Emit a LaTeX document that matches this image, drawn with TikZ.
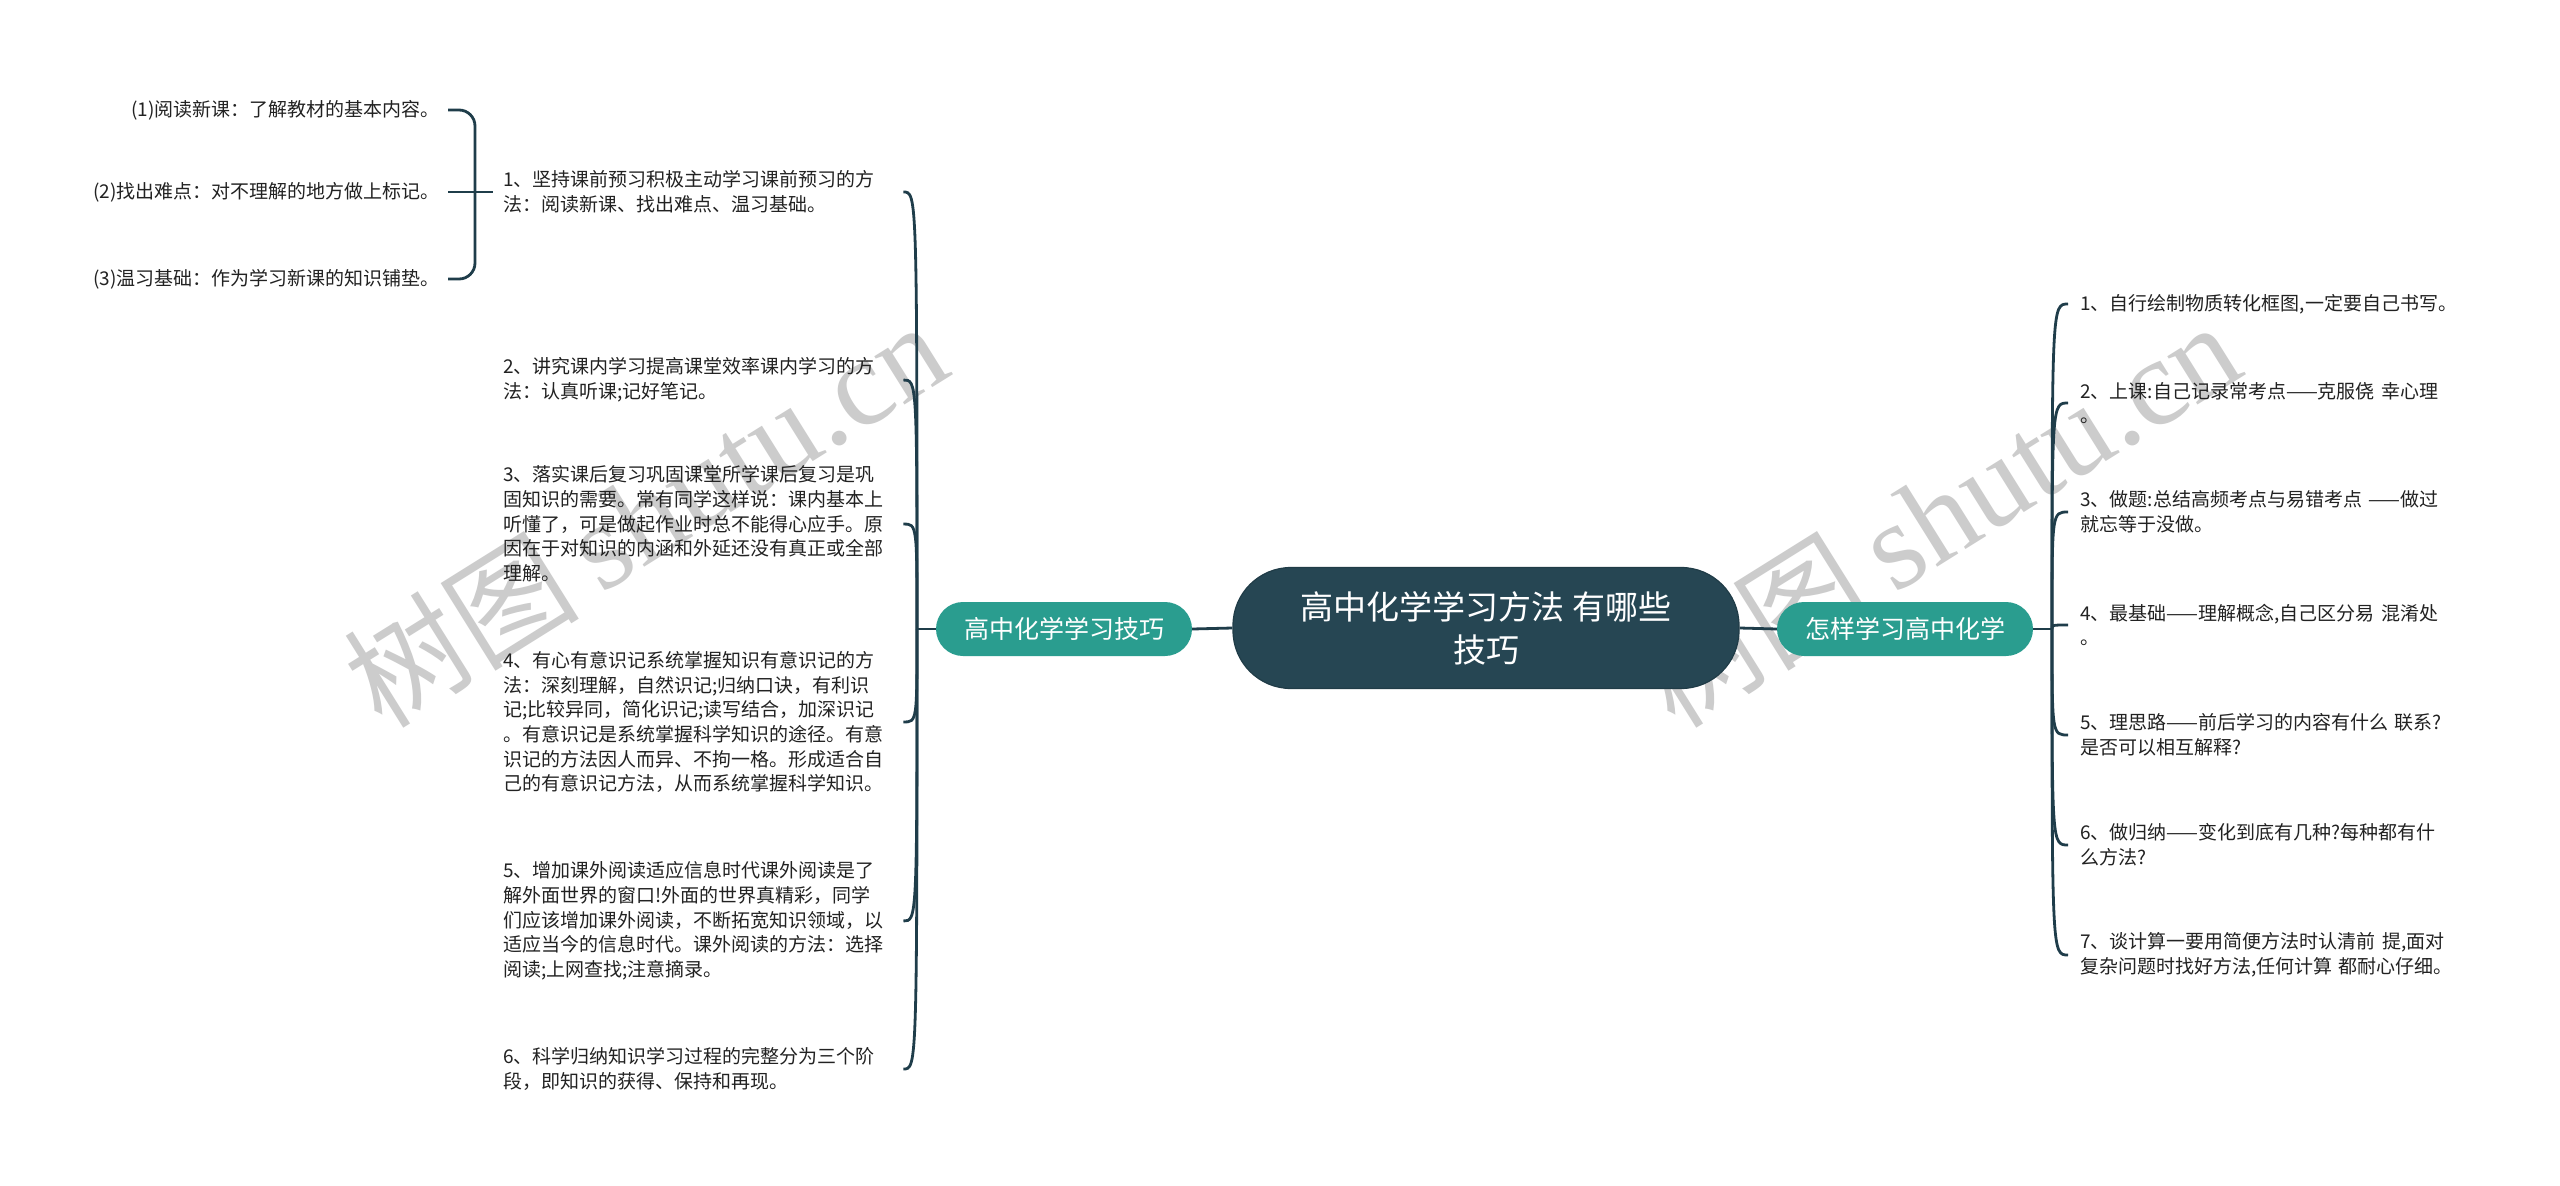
\documentclass[tikz,border=0pt]{standalone}
\usepackage{fontspec}
\setmainfont{Noto Sans CJK SC}
\newfontfamily\wmserif{Liberation Serif}
\definecolor{cdark}{HTML}{264653}
\definecolor{cteal}{HTML}{2A9D8F}
\definecolor{cline}{HTML}{1F3D4A}
\definecolor{ctext}{HTML}{222222}
\begin{document}
\begin{tikzpicture}[x=1pt,y=-1pt,
  conn/.style={draw=cline, line width=2.8pt},
  leftitem/.style={anchor=west, align=left, text width=390pt, inner xsep=10pt, inner ysep=0pt, text=ctext, font=\fontsize{19}{24.7}\selectfont},
  rightitem/.style={anchor=west, align=left, text width=420pt, inner xsep=12pt, inner ysep=0pt, text=ctext, font=\fontsize{19}{24.7}\selectfont},
  subitem/.style={anchor=east, align=right, inner xsep=8pt, inner ysep=0pt, text=ctext, font=\fontsize{19}{24.7}\selectfont},
  mainnode/.style={fill=cteal, text=white, rounded corners=27pt, minimum width=256pt, minimum height=54pt, inner sep=0pt, font=\fontsize{25}{30}\selectfont},
  centernode/.style={fill=cdark, draw=cdark!85!black, line width=1.2pt, text=white, rounded corners=58pt, minimum width=506pt, minimum height=121pt, align=center, inner sep=0pt, font=\fontsize{33}{43}\selectfont},
  wmark/.style={rotate=32, text=black!20, inner sep=0pt}
]
\useasboundingbox (0,0) rectangle (2560,1186);
\fill[white] (0,0) rectangle (2560,1186);

% watermarks
\node[wmark] (w1) at (645,514) {{\fontsize{118}{118}\selectfont 树图}\hspace{22pt}{\wmserif\fontsize{124}{124}\selectfont shutu.cn}};
\node[wmark] (w2) at (1938,514) {{\fontsize{118}{118}\selectfont 树图}\hspace{22pt}{\wmserif\fontsize{124}{124}\selectfont shutu.cn}};

% central and main nodes
\node[centernode] (c) at (1486,628) {高中化学学习方法 有哪些\\技巧};
\node[mainnode] (lm) at (1064,629) {高中化学学习技巧};
\node[mainnode] (rm) at (1905,629) {怎样学习高中化学};

% left items
\node[leftitem] (l1) at (493,192) {1、坚持课前预习积极主动学习课前预习的方\\法：阅读新课、找出难点、温习基础。};
\node[leftitem] (l2) at (493,380) {2、讲究课内学习提高课堂效率课内学习的方\\法：认真听课;记好笔记。};
\node[leftitem] (l3) at (493,524) {3、落实课后复习巩固课堂所学课后复习是巩\\固知识的需要。常有同学这样说：课内基本上\\听懂了，可是做起作业时总不能得心应手。原\\因在于对知识的内涵和外延还没有真正或全部\\理解。};
\node[leftitem] (l4) at (493,722) {4、有心有意识记系统掌握知识有意识记的方\\法：深刻理解，自然识记;归纳口诀，有利识\\记;比较异同，简化识记;读写结合，加深识记\\。有意识记是系统掌握科学知识的途径。有意\\识记的方法因人而异、不拘一格。形成适合自\\己的有意识记方法，从而系统掌握科学知识。};
\node[leftitem] (l5) at (493,921) {5、增加课外阅读适应信息时代课外阅读是了\\解外面世界的窗口!外面的世界真精彩，同学\\们应该增加课外阅读，不断拓宽知识领域，以\\适应当今的信息时代。课外阅读的方法：选择\\阅读;上网查找;注意摘录。};
\node[leftitem] (l6) at (493,1069) {6、科学归纳知识学习过程的完整分为三个阶\\段，即知识的获得、保持和再现。};

% sub items of item 1
\node[subitem] (s1) at (448,110) {(1)阅读新课：了解教材的基本内容。};
\node[subitem] (s2) at (448,192) {(2)找出难点：对不理解的地方做上标记。};
\node[subitem] (s3) at (448,279) {(3)温习基础：作为学习新课的知识铺垫。};

% right items
\node[rightitem] (r1) at (2068,304) {1、自行绘制物质转化框图,一定要自己书写。};
\node[rightitem] (r2) at (2068,403) {2、上课:自己记录常考点——克服侥 幸心理\\。};
\node[rightitem] (r3) at (2068,512) {3、做题:总结高频考点与易错考点 ——做过\\就忘等于没做。};
\node[rightitem] (r4) at (2068,625) {4、最基础——理解概念,自己区分易 混淆处\\。};
\node[rightitem] (r5) at (2068,735) {5、理思路——前后学习的内容有什么 联系?\\是否可以相互解释?};
\node[rightitem] (r6) at (2068,845) {6、做归纳——变化到底有几种?每种都有什\\么方法?};
\node[rightitem] (r7) at (2068,955) {7、谈计算一要用简便方法时认清前 提,面对\\复杂问题时找好方法,任何计算 都耐心仔细。};

% junctions
\coordinate (lj) at (917,629);
\coordinate (rj) at (2052,629);
\coordinate (bj) at (475,192);

% connectors
\draw[conn] (c.west) -- (lm.east);
\draw[conn] (c.east) -- (rm.west);
\draw[conn] (lm.west) -- (lj);
\draw[conn] (rm.east) -- (rj);
\foreach \i in {1,...,6}{
  \draw[conn] (lj) .. controls (lj |- l\i.east) .. (l\i.east);
}
\foreach \i in {1,...,7}{
  \draw[conn] (rj) .. controls (rj |- r\i.west) .. (r\i.west);
}
\draw[conn, rounded corners=16pt] (s1.east) -| (bj |- s3.east) -- (s3.east);
\draw[conn] (s2.east) -- (l1.west);
\end{tikzpicture}
\end{document}
